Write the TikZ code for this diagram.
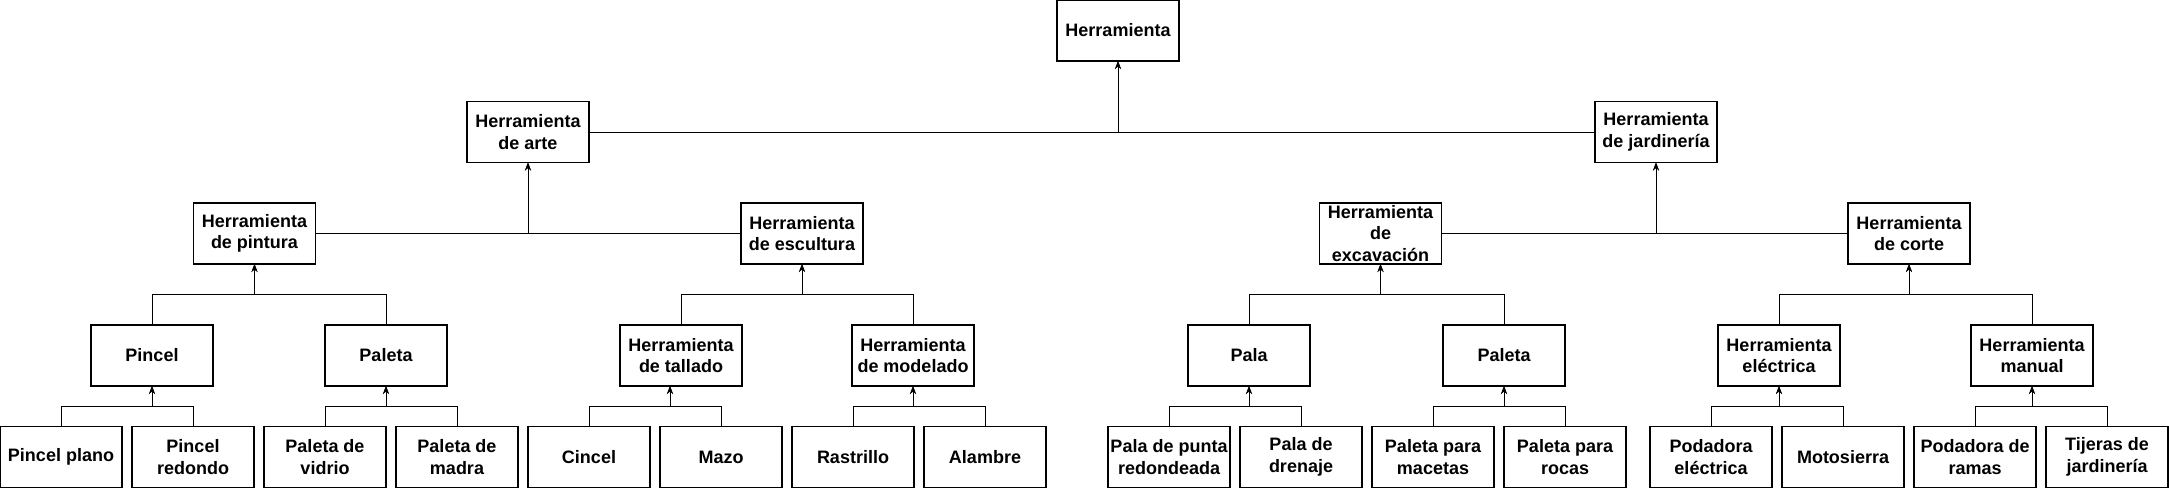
\documentclass[tikz,border=0pt]{standalone}
\usepackage{fontspec}
\setmainfont{Liberation Sans}
\usepackage{tikz}
\usetikzlibrary{arrows.meta, positioning, calc}
\tikzset{
  tool/.style={rectangle, draw, line width=1.3pt, align=center, inner sep=0pt, outer sep=0pt,
               minimum width=122pt, minimum height=61pt,
               font=\bfseries\fontsize{18}{21.6}\selectfont},
  fl/.style  ={-{Stealth[length=8pt,width=6pt]}, line width=1pt},
}
\begin{document}
\begin{tikzpicture}[x=1pt, y=-1pt, node distance=10pt]
  \useasboundingbox (0,0) rectangle (2169,488);
  \node[tool] (root) at (1118,30.5) {Herramienta};
  \node[tool] (arte) at (528,132) {Herramienta\\de arte};
  \node[tool] (jard) at (1656,132) {Herramienta\\de jardinería};
  \node[tool] (pintura) at (254.5,233.5) {Herramienta\\de pintura};
  \node[tool] (escultura) at (802,233.5) {Herramienta\\de escultura};
  \node[tool] (excav) at (1380.5,233.5) {Herramienta\\de\\excavación};
  \node[tool] (corte) at (1909,233.5) {Herramienta\\de corte};
  \node[tool] (pincel) at (152,355.5) {Pincel};
  \node[tool] (paleta) at (386,355.5) {Paleta};
  \node[tool] (tallado) at (681,355.5) {Herramienta\\de tallado};
  \node[tool] (modelado) at (913,355.5) {Herramienta\\de modelado};
  \node[tool] (pala) at (1249,355.5) {Pala};
  \node[tool] (paletaj) at (1504,355.5) {Paleta};
  \node[tool] (electrica) at (1779,355.5) {Herramienta\\eléctrica};
  \node[tool] (manual) at (2032,355.5) {Herramienta\\manual};
  % hojas
  \node[tool] (pplano) at (61,457) {Pincel plano};
  \node[tool, right=of pplano] (predondo) {Pincel\\redondo};
  \node[tool, right=of predondo] (pvidrio) {Paleta de\\vidrio};
  \node[tool, right=of pvidrio] (pmadra) {Paleta de\\madra};
  \node[tool, right=of pmadra] (cincel) {Cincel};
  \node[tool, right=of cincel] (mazo) {Mazo};
  \node[tool, right=of mazo] (rastrillo) {Rastrillo};
  \node[tool, right=of rastrillo] (alambre) {Alambre};
  \node[tool, right=62pt of alambre] (ppunta) {Pala de punta\\redondeada};
  \node[tool, right=of ppunta] (pdrenaje) {Pala de\\drenaje};
  \node[tool, right=of pdrenaje] (pmacetas) {Paleta para\\macetas};
  \node[tool, right=of pmacetas] (procas) {Paleta para\\rocas};
  \node[tool, right=24pt of procas] (podelec) {Podadora\\eléctrica};
  \node[tool, right=of podelec] (motosierra) {Motosierra};
  \node[tool, right=of motosierra] (podramas) {Podadora de\\ramas};
  \node[tool, right=of podramas] (tijeras) {Tijeras de\\jardinería};
  \draw[fl] (arte.east) -| (root.south);
  \draw[fl] (jard.west) -| (root.south);
  \draw[fl] (pintura.east) -| (arte.south);
  \draw[fl] (escultura.west) -| (arte.south);
  \draw[fl] (excav.east) -| (jard.south);
  \draw[fl] (corte.west) -| (jard.south);
  \foreach \c/\p in {pincel/pintura, paleta/pintura, tallado/escultura, modelado/escultura,
      pala/excav, paletaj/excav, electrica/corte, manual/corte,
      pplano/pincel, predondo/pincel, pvidrio/paleta, pmadra/paleta,
      rastrillo/modelado, alambre/modelado, ppunta/pala, pdrenaje/pala,
      pmacetas/paletaj, procas/paletaj, podelec/electrica, motosierra/electrica,
      podramas/manual, tijeras/manual}
    \draw[fl] (\c.north) |- ($(\c.north)!.5!(\p.south)$) -| (\p.south);
  \foreach \c in {cincel, mazo}
    \draw[fl] (\c.north) |- ($(\c.north)!.5!(tallado.south)$) -| ([xshift=-11pt]tallado.south);
\end{tikzpicture}
\end{document}
